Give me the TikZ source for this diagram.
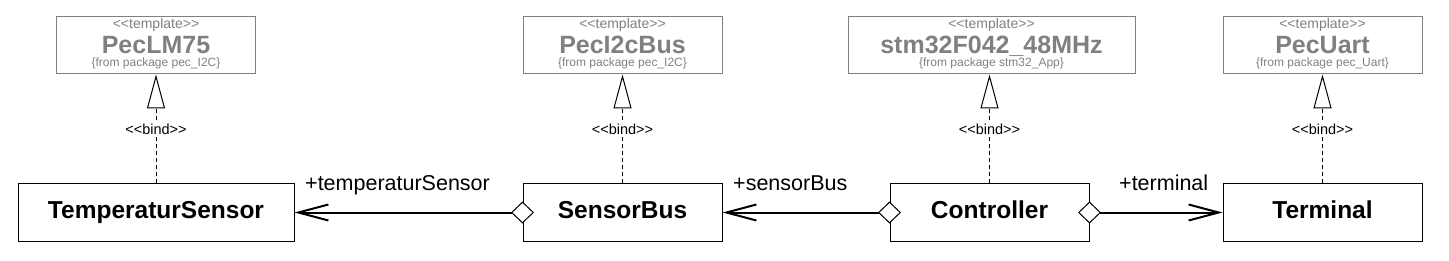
\documentclass[tikz,border=0pt]{standalone}
\usepackage{fontspec}
\setmainfont{Liberation Sans}
\usetikzlibrary{arrows.meta}

\begin{document}
\begin{tikzpicture}[x=1pt,y=1pt,
  cls/.style={draw,line width=1pt,minimum width=199pt,minimum height=57pt,inner sep=0pt,
    text height=16.5pt,text depth=4.6pt,font=\fontsize{24.5}{28}\selectfont\bfseries},
  tmpl/.style={draw=black!50,line width=1pt,minimum width=199pt,minimum height=57pt,inner sep=0pt},
  stereo/.style={anchor=base,text=black!50,inner sep=0pt,font=\fontsize{14}{16}\selectfont},
  tname/.style={anchor=base,text=black!50,inner sep=0pt,font=\fontsize{25}{28}\selectfont\bfseries},
  pkg/.style={anchor=base,text=black!50,inner sep=0pt,font=\fontsize{12}{14}\selectfont},
  bindline/.style={line width=1pt,dash pattern=on 4pt off 3pt,
    -{Triangle[open,length=34pt,width=18pt,line width=1pt]}},
  bindlbl/.style={anchor=base,fill=white,inner sep=1pt,font=\fontsize{14.5}{16}\selectfont},
  assoc/.style={line width=2pt,
    {Diamond[fill=white,length=23pt,width=22pt,line width=1pt]}-{Straight Barb[length=30pt,width=16pt]}},
  rolelbl/.style={anchor=base west,inner sep=0pt,font=\fontsize{21.5}{24}\selectfont}]
  \useasboundingbox (0,0) rectangle (1449,260);
  % classes
  \node[cls,minimum width=276pt] (ts) at (156,47.5) {TemperaturSensor};
  \node[cls] (sb) at (622.5,47.5) {SensorBus};
  \node[cls] (ctl) at (989.5,47.5) {Controller};
  \node[cls] (term) at (1322.5,47.5) {Terminal};
  % templates
  \node[tmpl] (tLM) at (156,214.5) {};
  \node[stereo] (tLMst) at (156,231.7) {<{}<template>{}>};
  \node[tname] (tLMnm) at (156,206.7) {PecLM75};
  \node[pkg] (tLMpk) at (156,193.3) {\{from package pec\_I2C\}};
  \node[tmpl] (tI2c) at (622.5,214.5) {};
  \node[stereo] (tI2cst) at (622.5,231.7) {<{}<template>{}>};
  \node[tname] (tI2cnm) at (622.5,206.7) {PecI2cBus};
  \node[pkg] (tI2cpk) at (622.5,193.3) {\{from package pec\_I2C\}};
  \node[tmpl,minimum width=287pt] (tStm) at (991.5,214.5) {};
  \node[stereo] (tStmst) at (991.5,231.7) {<{}<template>{}>};
  \node[tname] (tStmnm) at (991.5,206.7) {stm32F042\_48MHz};
  \node[pkg] (tStmpk) at (991.5,193.3) {\{from package stm32\_App\}};
  \node[tmpl] (tUart) at (1322.5,214.5) {};
  \node[stereo] (tUartst) at (1322.5,231.7) {<{}<template>{}>};
  \node[tname] (tUartnm) at (1322.5,206.7) {PecUart};
  \node[pkg] (tUartpk) at (1322.5,193.3) {\{from package pec\_Uart\}};
  % bind
  \draw[bindline] (ts.north) -- (tLM.south);
  \draw[bindline] (sb.north) -- (tI2c.south);
  \draw[bindline] (ctl.north) -- (ctl.north |- tStm.south);
  \draw[bindline] (term.north) -- (tUart.south);
  \node[bindlbl] (bLM) at (156,125) {<{}<bind>{}>};
  \node[bindlbl] (bI2c) at (622.5,125) {<{}<bind>{}>};
  \node[bindlbl] (bStm) at (989.5,125) {<{}<bind>{}>};
  \node[bindlbl] (bUart) at (1322.5,125) {<{}<bind>{}>};
  % associations
  \draw[assoc] ([xshift=11.5pt]sb.west) -- (ts.east);
  \draw[assoc] ([xshift=11.5pt]ctl.west) -- (sb.east);
  \draw[assoc] ([xshift=-11.5pt]ctl.east) -- (term.west);
  \node[rolelbl] (rTS) at (305,70) {+temperaturSensor};
  \node[rolelbl] (rSB) at (733,70) {+sensorBus};
  \node[rolelbl] (rTerm) at (1119,70) {+terminal};
\end{tikzpicture}
\end{document}
